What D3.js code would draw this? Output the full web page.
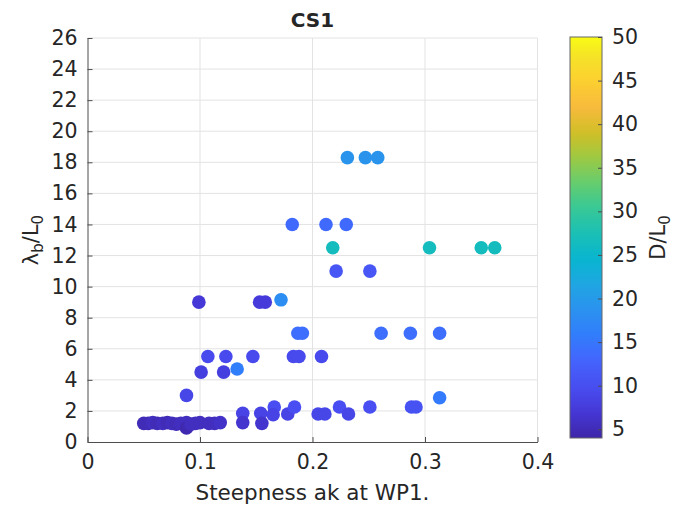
<!DOCTYPE html>
<html>
<head>
<meta charset="utf-8">
<script src="https://cdn.jsdelivr.net/npm/d3@7"></script>
<style>
  html, body { margin: 0; padding: 0; background: #fff; }
  svg text { font-family: "DejaVu Sans", sans-serif; fill: #262626; }
</style>
</head>
<body>
<svg id="chart" width="673" height="507"></svg>
<script>
// Steepness ak at WP1 (x), breaking length λb/L0 (y), relative depth D/L0 (colour)
const steepness = [
  0.050, 0.054, 0.058, 0.062, 0.067, 0.071, 0.075, 0.079, 0.083, 0.088, 0.088, 0.092, 0.096, 0.100, 0.108, 0.113, 0.118,
  0.088,
  0.138, 0.138, 0.154, 0.155, 0.166, 0.165, 0.178, 0.184, 0.205, 0.211, 0.224, 0.232, 0.251, 0.288, 0.292, 0.313,
  0.101, 0.121, 0.133,
  0.107, 0.123, 0.147, 0.183, 0.188, 0.208,
  0.187, 0.191, 0.261, 0.287, 0.313,
  0.099, 0.153, 0.158, 0.172,
  0.221, 0.251,
  0.218, 0.304, 0.350, 0.362,
  0.182, 0.212, 0.230,
  0.231, 0.247, 0.258
];
const breakLength = [
  1.2, 1.2, 1.25, 1.2, 1.2, 1.25, 1.2, 1.15, 1.2, 1.25, 0.9, 1.15, 1.2, 1.25, 1.2, 1.2, 1.25,
  3.0,
  1.85, 1.25, 1.85, 1.2, 2.25, 1.75, 1.8, 2.25, 1.8, 1.8, 2.25, 1.8, 2.25, 2.25, 2.25, 2.85,
  4.5, 4.5, 4.7,
  5.5, 5.5, 5.5, 5.5, 5.5, 5.5,
  7.0, 7.0, 7.0, 7.0, 7.0,
  9.0, 9.0, 9.0, 9.15,
  11.0, 11.0,
  12.5, 12.5, 12.5, 12.5,
  14.0, 14.0, 14.0,
  18.3, 18.3, 18.3
];
const depth = [
  5, 5, 5.5, 5, 5.5, 5, 5.5, 5, 5.5, 5.5, 4.5, 5.5, 5.5, 5.5, 5.5, 5.5, 6,
  9,
  8.5, 6.5, 8.5, 6.5, 10, 8.5, 8.5, 10, 9, 9, 10, 9, 10, 10.5, 10.5, 15.5,
  8, 8, 16,
  9.5, 9.5, 9.5, 9.5, 9.5, 9.5,
  14, 14, 14, 14, 14,
  7, 7.5, 7.5, 18,
  11, 11,
  26.5, 26.5, 26.5, 26.5,
  13.5, 13.5, 13.5,
  19, 19, 19
];

const xTicks = [0, 0.1, 0.2, 0.3, 0.4];
const yTicks = [0, 2, 4, 6, 8, 10, 12, 14, 16, 18, 20, 22, 24, 26];
const cTicks = [5, 10, 15, 20, 25, 30, 35, 40, 45, 50];

// Parula colour map (sampled)
const parula = [
  [0.2422,0.1504,0.6603],[0.2706,0.2147,0.8364],[0.2813,0.3006,0.9414],[0.2699,0.3892,0.9906],
  [0.1963,0.4847,0.9892],[0.1687,0.5703,0.9359],[0.1248,0.6459,0.8883],[0.0297,0.7082,0.8163],
  [0.0964,0.7500,0.7120],[0.2161,0.7843,0.5923],[0.3909,0.8029,0.4354],[0.6174,0.7876,0.2612],
  [0.8203,0.7498,0.1535],[0.9728,0.7298,0.2394],[0.9892,0.8136,0.1885],[0.9610,0.8890,0.1537],
  [0.9769,0.9839,0.0805]
];
const parulaPos = [0,4,8,12,16,20,24,28,32,36,40,44,48,52,56,60,63].map(i => i / 63);
const parulaScale = d3.scaleLinear()
  .domain(parulaPos)
  .range(parula.map(c => d3.rgb(c[0]*255, c[1]*255, c[2]*255).toString()))
  .interpolate(d3.interpolateRgb)
  .clamp(true);

const cMin = 4, cMax = 50;
const color = v => parulaScale((v - cMin) / (cMax - cMin));

const svg = d3.select("#chart");
const plot = { left: 87.5, right: 537.5, top: 38, bottom: 442 };

const x = d3.scaleLinear().domain([0, 0.4]).range([plot.left, plot.right]);
const y = d3.scaleLinear().domain([0, 26]).range([plot.bottom, plot.top]);

// grid
const grid = svg.append("g");
grid.selectAll("line.gx").data(xTicks.slice(1)).join("line")
  .attr("x1", d => x(d)).attr("x2", d => x(d))
  .attr("y1", plot.top).attr("y2", plot.bottom)
  .attr("stroke", "#e3e3e3").attr("stroke-width", 1);
grid.selectAll("line.gy").data(yTicks.slice(1)).join("line")
  .attr("x1", plot.left).attr("x2", plot.right)
  .attr("y1", d => y(d)).attr("y2", d => y(d))
  .attr("stroke", "#e3e3e3").attr("stroke-width", 1);

// axes
const xAxis = d3.axisBottom(x).tickValues(xTicks).tickFormat(d => d === 0 ? "0" : d3.format(".1f")(d))
  .tickSizeInner(-5).tickSizeOuter(0).tickPadding(12);
const yAxis = d3.axisLeft(y).tickValues(yTicks).tickFormat(d3.format("d"))
  .tickSizeInner(-5).tickSizeOuter(0).tickPadding(10);

const gx = svg.append("g").attr("transform", `translate(0,${plot.bottom})`).call(xAxis);
const gy = svg.append("g").attr("transform", `translate(${plot.left},0)`).call(yAxis);
[gx, gy].forEach(g => {
  g.select(".domain").attr("stroke", "#4d4d4d");
  g.selectAll(".tick line").attr("stroke", "#4d4d4d");
  g.selectAll(".tick text").attr("font-size", 20.5).attr("font-family", "DejaVu Sans").attr("fill", "#262626");
});

// points
const pts = steepness.map((s, i) => ({ s, b: breakLength[i], d: depth[i] }));
svg.append("g").selectAll("circle").data(pts).join("circle")
  .attr("cx", d => x(d.s)).attr("cy", d => y(d.b)).attr("r", 6.8)
  .attr("fill", d => color(d.d));

// title and labels
svg.append("text").attr("x", (plot.left + plot.right) / 2).attr("y", 27)
  .attr("text-anchor", "middle").attr("font-size", 20).attr("font-weight", "bold").text("CS1");

svg.append("text").attr("x", (plot.left + plot.right) / 2).attr("y", 500)
  .attr("text-anchor", "middle").attr("font-size", 21.5).text("Steepness ak at WP1.");

const yl = svg.append("text").attr("transform", `translate(38,${(plot.top + plot.bottom) / 2}) rotate(-90)`)
  .attr("text-anchor", "middle").attr("font-size", 21);
yl.append("tspan").text("λ");
yl.append("tspan").attr("font-size", 15).attr("dy", 5).text("b");
yl.append("tspan").attr("dy", -5).text("/L");
yl.append("tspan").attr("font-size", 15).attr("dy", 5).text("0");

// colour bar
const cb = { left: 570, width: 32, top: 37, bottom: 438 };
const defs = svg.append("defs");
const grad = defs.append("linearGradient").attr("id", "cbgrad")
  .attr("x1", 0).attr("y1", 1).attr("x2", 0).attr("y2", 0);
d3.range(0, 1.0001, 0.02).forEach(t => {
  grad.append("stop").attr("offset", t).attr("stop-color", parulaScale(t));
});
svg.append("rect").attr("x", cb.left).attr("y", cb.top).attr("width", cb.width)
  .attr("height", cb.bottom - cb.top).attr("fill", "url(#cbgrad)")
  .attr("stroke", "#666").attr("stroke-width", 1);

const cy = d3.scaleLinear().domain([cMin, cMax]).range([cb.bottom, cb.top]);
const cAxis = d3.axisRight(cy).tickValues(cTicks).tickFormat(d3.format("d"))
  .tickSizeInner(-4).tickSizeOuter(0).tickPadding(10);
const gc = svg.append("g").attr("transform", `translate(${cb.left + cb.width},0)`).call(cAxis);
gc.select(".domain").remove();
gc.selectAll(".tick line").attr("stroke", "#4d4d4d");
gc.selectAll(".tick text").attr("font-size", 20.5).attr("font-family", "DejaVu Sans").attr("fill", "#262626");

const cl = svg.append("text").attr("transform", `translate(665,${(cb.top + cb.bottom) / 2}) rotate(-90)`)
  .attr("text-anchor", "middle").attr("font-size", 21);
cl.append("tspan").text("D/L");
cl.append("tspan").attr("font-size", 15).attr("dy", 5).text("0");
</script>
</body>
</html>
